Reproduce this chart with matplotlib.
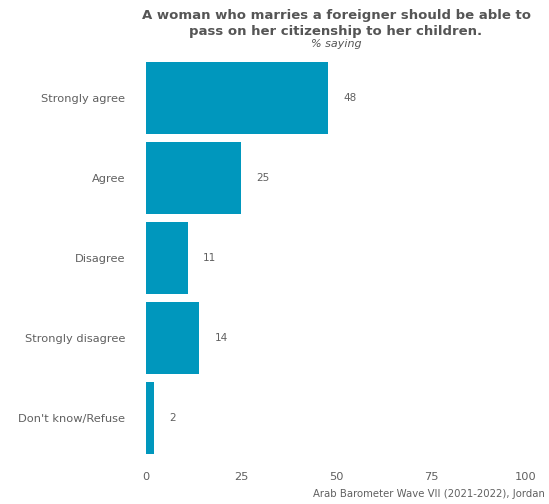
import matplotlib
matplotlib.use("Agg")
import matplotlib.pyplot as plt

categories = ["Strongly agree", "Agree", "Disagree", "Strongly disagree", "Don't know/Refuse"]
values = [48, 25, 11, 14, 2]
xticks = [0, 25, 50, 75, 100]

plt.rcParams['font.family'] = ['DejaVu Sans']
W, H = 549, 504
fig = plt.figure(figsize=(W / 100, H / 100), dpi=100)
ax = fig.add_axes([146 / W, 1 - 466 / H, (526 - 146) / W, (466 - 50) / H])

bar_color = "#0097BD"
txt = "#555555"
tick_c = "#606060"
ypos = list(range(len(categories)))
ax.barh(ypos, values, height=0.9, color=bar_color)
ax.set_ylim(len(categories) - 0.4, -0.6)
ax.set_xlim(0, 100)
ax.set_yticks(ypos)
ax.set_yticklabels(categories, fontsize=8.2, color=tick_c)
ax.set_xticks(xticks)
ax.set_xticklabels([str(t) for t in xticks], fontsize=8.2, color=tick_c)
ax.tick_params(length=0)
ax.tick_params(axis='x', pad=4)
ax.tick_params(axis='y', pad=15)
for s in ax.spines.values():
    s.set_visible(False)

for y, v in zip(ypos, values):
    ax.annotate(str(v), (v, y), xytext=(11, 0), textcoords='offset points',
                va='center', ha='left', fontsize=7.5, color=tick_c)

fig.text(336 / W, 1 - 16 / H, "A woman who marries a foreigner should be able to",
         ha='center', va='center', fontsize=9.5, fontweight='bold', color=txt)
fig.text(336 / W, 1 - 31 / H, "pass on her citizenship to her children.",
         ha='center', va='center', fontsize=9.5, fontweight='bold', color=txt)
fig.text(336 / W, 1 - 44 / H, "% saying", ha='center', va='center',
         fontsize=8, style='italic', color=txt)
fig.text(545 / W, 1 - 494 / H, "Arab Barometer Wave VII (2021-2022), Jordan",
         ha='right', va='center', fontsize=7.3, color=tick_c)

fig.savefig("out.png", dpi=100)
